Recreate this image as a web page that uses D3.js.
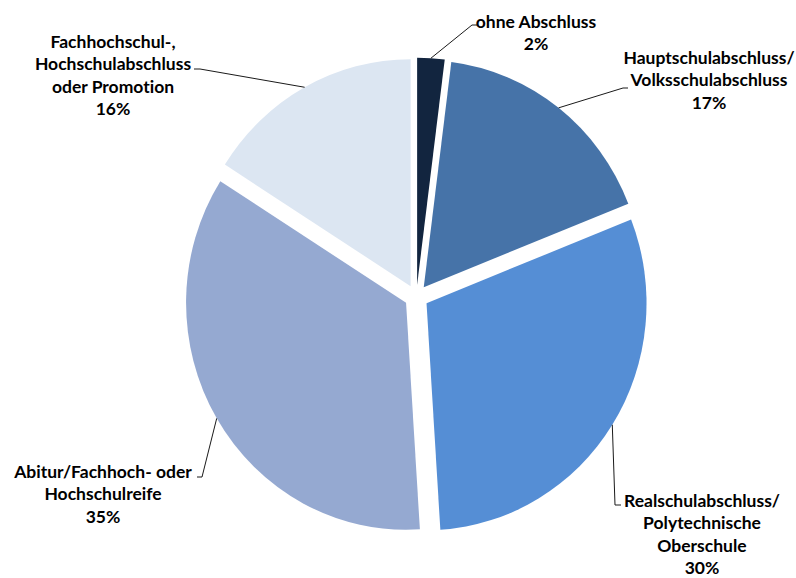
<!DOCTYPE html>
<html>
<head>
<meta charset="utf-8">
<script src="https://cdn.jsdelivr.net/npm/d3@7"></script>
<style>
  html, body { margin: 0; padding: 0; background: #fff; }
  svg { display: block; }
  text { font-family: Lato, "Liberation Sans", sans-serif; font-weight: bold; fill: #000;
         font-variant-ligatures: none; font-feature-settings: "liga" 0; }
</style>
</head>
<body>
<svg id="chart" width="796" height="578"></svg>
<script>
// Schulabschluss – Anteile in Prozent
const categories = [
  "ohne Abschluss",
  "Hauptschulabschluss/Volksschulabschluss",
  "Realschulabschluss/Polytechnische Oberschule",
  "Abitur/Fachhoch- oder Hochschulreife",
  "Fachhochschul-, Hochschulabschluss oder Promotion"
];
const labelLines = [
  ["ohne Abschluss"],
  ["Hauptschulabschluss/", "Volksschulabschluss"],
  ["Realschulabschluss/", "Polytechnische", "Oberschule"],
  ["Abitur/Fachhoch- oder", "Hochschulreife"],
  ["Fachhochschul-,", "Hochschulabschluss", "oder Promotion"]
];
const values = [2, 17, 30, 35, 16];
const colors = ["#12253f", "#4673a8", "#558ed5", "#95a9d1", "#dce6f2"];

// layout
const cx = 416.4, cy = 296.7;   // pie centre
const rx = 220, ry = 227;       // outer radii (horizontal / vertical)
const explode = 12;             // slice offset along its bisector
const lineH = 22.3;

// label blocks: centre x, centre y of first line, leader polyline (after arc point)
const labelLayout = [
  { x: 536, y: 22,  leader: [[472, 25], [477, 25]] },
  { x: 709, y: 58,  leader: [[623, 88], [628, 88]] },
  { x: 702, y: 501, leader: [[615, 505], [621, 505]] },
  { x: 103, y: 472, leader: [[202, 477], [197, 477]] },
  { x: 113, y: 42,  leader: [[200, 69], [194, 69]] }
];

const svg = d3.select("#chart");

const pie = d3.pie().sort(null).value(d => d).startAngle(0).endAngle(2 * Math.PI);
const arcs = pie(values);

const arc = d3.arc().innerRadius(0).outerRadius(ry);

const sx = rx / ry;
const pieG = svg.append("g").attr("transform", `translate(${cx},${cy}) scale(${sx},1)`);

pieG.selectAll("path.slice")
  .data(arcs)
  .join("path")
  .attr("class", "slice")
  .attr("fill", (d, i) => colors[i])
  .attr("transform", d => {
    const a = (d.startAngle + d.endAngle) / 2;
    return `translate(${explode * Math.sin(a) / sx},${-explode * Math.cos(a)})`;
  })
  .attr("d", arc);

// leader lines from the middle of each slice's outer arc
const lineGen = d3.line();
arcs.forEach((d, i) => {
  const a = (d.startAngle + d.endAngle) / 2;
  const ox = cx + explode * Math.sin(a);
  const oy = cy - explode * Math.cos(a);
  const p0 = [ox + rx * Math.sin(a), oy - ry * Math.cos(a)];
  const pts = [p0].concat(labelLayout[i].leader);
  svg.append("path")
    .attr("d", lineGen(pts))
    .attr("fill", "none")
    .attr("stroke", "#1a1a1a")
    .attr("stroke-width", 1);
});

// labels
const fmt = d3.format(".0f");
arcs.forEach((d, i) => {
  const L = labelLayout[i];
  const lines = labelLines[i].concat([fmt(values[i]) + "%"]);
  const t = svg.append("text")
    .attr("text-anchor", "middle")
    .attr("font-size", 17.5);
  lines.forEach((ln, k) => {
    t.append("tspan")
      .attr("x", L.x)
      .attr("y", L.y + k * lineH + 6)
      .text(ln);
  });
});
</script>
</body>
</html>
